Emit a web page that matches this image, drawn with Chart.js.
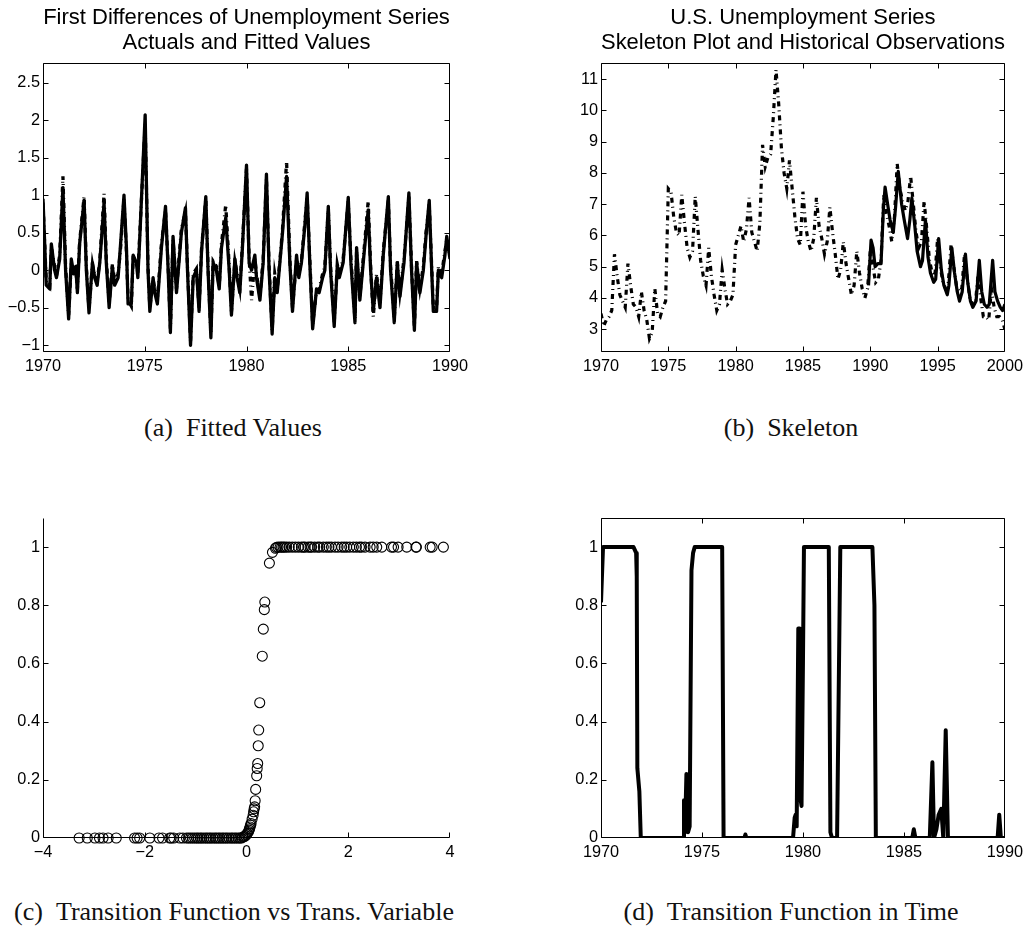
<!DOCTYPE html>
<html>
<head>
<meta charset="utf-8">
<title>Unemployment STAR model</title>
<script src="https://cdn.jsdelivr.net/npm/chart.js@4.4.1/dist/chart.umd.min.js"></script>
<style>
  html, body { margin: 0; padding: 0; background: #fff; }
  body { width: 1028px; height: 928px; position: relative; overflow: hidden; }
  canvas { position: absolute; }
  .cap {
    position: absolute;
    font-family: "Liberation Serif", "Times New Roman", serif;
    font-size: 26px;
    line-height: 1;
    color: #111;
    white-space: nowrap;
    transform: translate(-50%, -50%);
  }
</style>
</head>
<body>
<canvas id="fd-chart" width="493" height="390" style="left:0;top:0"></canvas>
<canvas id="sk-chart" width="488" height="390" style="left:540px;top:0"></canvas>
<canvas id="tv-chart" width="493" height="400" style="left:0;top:480px"></canvas>
<canvas id="tf-chart" width="488" height="400" style="left:540px;top:480px"></canvas>

<div class="cap" style="left:233px;top:428px">(a)&ensp;Fitted Values</div>
<div class="cap" style="left:791px;top:428px">(b)&ensp;Skeleton</div>
<div class="cap" style="left:234px;top:912px">(c)&ensp;Transition Function vs Trans. Variable</div>
<div class="cap" style="left:791px;top:912px">(d)&ensp;Transition Function in Time</div>

<script>
/* first differences: actual vs fitted, 1970-1990 */
const fdTimes = [
  1970.00, 1970.16, 1970.33, 1970.41, 1970.57, 1970.66, 1970.82, 1970.98,
  1971.11, 1971.26, 1971.39, 1971.51, 1971.61, 1971.69, 1971.80,
  1972.02, 1972.13, 1972.26, 1972.43, 1972.54, 1972.66, 1972.79,
  1973.00, 1973.11, 1973.25, 1973.41, 1973.52, 1973.69, 1973.80, 1973.98,
  1974.10, 1974.18, 1974.34, 1974.43, 1974.59, 1974.66, 1974.75,
  1975.02, 1975.16, 1975.25, 1975.41, 1975.49, 1975.62, 1975.82,
  1976.02, 1976.15, 1976.26, 1976.39, 1976.56, 1976.80,
  1977.00, 1977.10, 1977.25, 1977.38, 1977.54, 1977.67, 1977.79,
  1978.00, 1978.11, 1978.25, 1978.36, 1978.52, 1978.66, 1978.77, 1978.98,
  1979.15, 1979.26, 1979.43, 1979.54, 1979.67, 1979.80,
  1980.00, 1980.13, 1980.25, 1980.41, 1980.49, 1980.66, 1980.82, 1980.98,
  1981.11, 1981.26, 1981.39, 1981.51, 1981.64, 1981.77, 1981.97,
  1982.13, 1982.26, 1982.46, 1982.57, 1982.70, 1982.87, 1982.98,
  1983.11, 1983.25, 1983.44, 1983.57, 1983.74, 1983.85,
  1984.02, 1984.13, 1984.31, 1984.46, 1984.56, 1984.75,
  1985.00, 1985.13, 1985.33, 1985.41, 1985.57, 1985.77, 1985.98,
  1986.10, 1986.23, 1986.39, 1986.56, 1986.72, 1986.97,
  1987.08, 1987.26, 1987.41, 1987.54, 1987.74, 1987.98,
  1988.11, 1988.25, 1988.36, 1988.52, 1988.69, 1988.82, 1988.98,
  1989.10, 1989.18, 1989.34, 1989.43, 1989.59, 1989.75, 1989.84, 1990.00
];
const fdActual = [
  0.95, -0.20, -0.25, 0.35, 0.00, -0.10, 0.15, 1.10,
  0.00, -0.65, 0.15, -0.05, 0.05, -0.30, 0.35,
  0.93, 0.00, -0.57, 0.10, -0.10, -0.20, 0.10,
  0.90, 0.10, -0.50, 0.05, -0.20, -0.10, 0.30, 1.00,
  0.30, -0.45, -0.45, 0.20, 0.10, -0.10, 0.40,
  2.07, 0.00, -0.55, -0.10, -0.30, -0.45, 0.30,
  0.85, 0.00, -0.83, 0.45, -0.30, 0.50,
  0.83, 0.00, -1.00, -0.10, 0.00, -0.55, 0.25,
  0.98, 0.00, -0.90, 0.10, 0.00, -0.25, 0.30, 0.70,
  0.00, -0.60, 0.15, -0.10, -0.30, 0.30,
  1.40, 0.10, 0.00, 0.20, -0.10, -0.40, 0.10, 1.28,
  0.00, -0.85, -0.10, -0.30, 0.10, 0.50, 1.25,
  0.10, -0.55, 0.20, -0.10, 0.10, 0.60, 1.03,
  0.10, -0.78, -0.25, -0.30, -0.10, 0.00,
  0.85, 0.00, -0.75, 0.05, -0.10, 0.10,
  0.97, 0.10, -0.70, 0.30, -0.40, 0.20, 0.80,
  0.00, -0.55, -0.10, -0.50, 0.20, 0.98,
  0.00, -0.70, 0.10, -0.35, 0.10, 1.03,
  0.00, -0.80, 0.10, -0.30, 0.00, 0.45, 0.93,
  0.00, -0.55, -0.55, 0.00, -0.10, 0.20, 0.45, 0.15
];
const fdFitted = [
  0.90, -0.15, -0.22, 0.30, 0.05, -0.08, 0.20, 1.25,
  0.05, -0.60, 0.10, -0.02, 0.02, -0.25, 0.38,
  0.98, 0.05, -0.52, 0.08, -0.08, -0.15, 0.12,
  1.02, 0.15, -0.45, 0.08, -0.15, -0.05, 0.25, 0.95,
  0.25, -0.40, -0.48, 0.15, 0.12, -0.05, 0.45,
  1.95, 0.05, -0.50, -0.12, -0.25, -0.40, 0.35,
  0.80, 0.05, -0.78, 0.40, -0.25, 0.55,
  0.78, 0.05, -0.95, -0.05, 0.02, -0.50, 0.28,
  0.95, 0.05, -0.85, 0.12, 0.05, -0.22, 0.35, 0.87,
  0.05, -0.55, 0.12, -0.05, -0.25, 0.35,
  1.35, 0.15, -0.40, 0.15, -0.05, -0.35, 0.15, 1.22,
  0.05, -0.80, -0.05, -0.25, 0.12, 0.55, 1.45,
  0.15, -0.50, 0.15, -0.05, 0.12, 0.65, 0.98,
  0.15, -0.72, -0.28, -0.25, -0.05, 0.05,
  0.80, 0.05, -0.70, 0.08, -0.05, 0.15,
  0.92, 0.15, -0.65, 0.25, -0.35, 0.25, 0.92,
  0.05, -0.62, -0.05, -0.45, 0.25, 0.93,
  0.05, -0.65, 0.12, -0.30, 0.15, 0.98,
  0.05, -0.75, 0.12, -0.25, 0.05, 0.50, 0.88,
  0.05, -0.50, -0.50, 0.05, -0.05, 0.25, 0.40, 0.20
];
const fdXTicks = [1970, 1975, 1980, 1985, 1990];
const fdYTicks = [-1, -0.5, 0, 0.5, 1, 1.5, 2, 2.5];

/* unemployment rate, observed every 0.2 years from 1970.0 to 2000.0 */
const histValues = [
  3.5, 3.1, 3.3, 3.4, 3.6,
  5.4, 4.7, 4.1, 3.9, 3.7,
  5.1, 4.4, 3.8, 3.7, 3.4,
  4.2, 3.6, 3.3, 2.7, 2.9,
  4.3, 3.5, 3.4, 3.7, 3.9,
  7.5, 7.4, 6.6, 6.1, 6.0,
  7.3, 6.4, 5.6, 5.3, 5.5,
  7.25, 6.2, 5.2, 4.7, 4.4,
  5.6, 4.7, 4.1, 3.6, 3.8,
  4.9, 4.3, 3.8, 3.9, 4.1,
  5.7, 6.0, 6.3, 5.8, 6.2,
  7.2, 6.1, 5.8, 5.5, 6.4,
  8.9, 8.2, 8.5, 8.6, 9.8,
  11.3, 10.2, 8.8, 8.0, 7.5,
  8.4, 7.5, 6.6, 5.9, 5.7,
  7.4, 6.3, 5.8, 5.5, 5.9,
  7.2, 6.3, 5.9, 5.4, 5.8,
  6.9, 6.1, 5.4, 4.6, 4.9,
  5.8, 5.1, 4.6, 4.1, 4.4,
  5.5, 4.8, 4.3, 4.0, 4.3,
  5.5, 5.0, 4.5, 4.6, 5.2,
  7.3, 6.7, 6.3, 5.8, 6.6,
  8.3, 7.5, 7.1, 6.8, 7.1,
  7.9, 7.0, 6.1, 5.6, 5.8,
  7.1, 6.2, 5.2, 4.8, 4.7,
  5.9, 5.0, 4.5, 4.3, 4.5,
  5.7, 5.0, 4.4, 4.2, 4.3,
  5.4, 4.6, 4.0, 3.8, 3.8,
  4.7, 4.0, 3.4, 3.4, 3.3,
  4.3, 3.7, 3.4, 3.4, 3.3,
  3.0
];
const histStart = 1970;
const histStep = 0.2;

/* model skeleton, 1990-2000 */
const skTimes = [
  1989.87, 1990.06, 1990.21, 1990.36, 1990.56, 1990.80, 1990.97,
  1991.10, 1991.29, 1991.47, 1991.71, 1991.88,
  1992.08, 1992.33, 1992.52, 1992.77, 1992.94,
  1993.09, 1993.31, 1993.48, 1993.73, 1993.88,
  1994.10, 1994.29, 1994.47, 1994.71, 1994.86,
  1995.08, 1995.28, 1995.47, 1995.72, 1995.84,
  1996.06, 1996.26, 1996.46, 1996.63, 1996.83,
  1997.07, 1997.24, 1997.44, 1997.62, 1997.86,
  1998.10, 1998.28, 1998.47, 1998.67, 1998.84,
  1999.09, 1999.26, 1999.46, 1999.66, 1999.83, 2000.00
];
const skValues = [
  4.4, 5.85, 5.6, 5.0, 5.1, 5.1, 6.8,
  7.55, 7.0, 6.5, 6.1, 6.9,
  8.05, 7.0, 6.5, 5.9, 6.5,
  7.2, 6.3, 5.5, 5.0, 5.2,
  6.5, 5.3, 4.8, 4.5, 4.6,
  5.9, 4.9, 4.4, 4.1, 4.4,
  5.6, 4.8, 4.2, 3.9, 4.2,
  5.4, 4.5, 3.9, 3.7, 3.9,
  5.2, 4.2, 3.8, 3.7, 3.8,
  5.2, 4.2, 3.9, 3.7, 3.6, 3.8
];
const skXTicks = [1970, 1975, 1980, 1985, 1990, 1995, 2000];
const skYTicks = [3, 4, 5, 6, 7, 8, 9, 10, 11];

/* transition function against the transition variable */
const tvX = [
  -3.29, -3.13, -2.98, -2.89, -2.82, -2.72, -2.56, -2.20, -2.15, -2.10,
  -1.90, -1.72, -1.65, -1.51, -1.48, -1.43, -1.31, -1.25, -1.18, -1.14,
  -1.10, -1.06, -1.02, -0.98, -0.95, -0.91, -0.88, -0.84, -0.80, -0.77,
  -0.73, -0.70, -0.66, -0.62, -0.59, -0.55, -0.52, -0.48, -0.45, -0.41,
  -0.38, -0.34, -0.30, -0.27, -0.23, -0.20, -0.16, -0.13, -0.10, -0.07,
  -0.04, -0.02, 0.00, 0.02, 0.04, 0.05, 0.06, 0.07, 0.08, 0.09,
  0.11, 0.13, 0.14, 0.15, 0.16, 0.17, 0.18, 0.20, 0.21, 0.22,
  0.23, 0.24, 0.26, 0.31, 0.33, 0.35, 0.36, 0.45, 0.51, 0.57,
  0.59, 0.62, 0.66, 0.69, 0.72, 0.75, 0.79, 0.84, 0.90, 0.96,
  1.02, 1.08, 1.12, 1.15, 1.21, 1.25, 1.28, 1.34, 1.40, 1.44,
  1.51, 1.57, 1.62, 1.67, 1.74, 1.80, 1.87, 1.92, 1.97, 2.03,
  2.10, 2.16, 2.22, 2.26, 2.33, 2.43, 2.49, 2.56, 2.66, 2.85,
  2.89, 2.98, 3.15, 3.33, 3.34, 3.61, 3.65, 3.87
];
const tvY = [
  0, 0, 0, 0, 0, 0, 0, 0, 0, 0,
  0, 0, 0, 0, 0, 0, 0, 0, 0, 0,
  0, 0, 0, 0, 0, 0, 0, 0, 0, 0,
  0, 0, 0, 0, 0, 0, 0, 0, 0, 0,
  0, 0, 0, 0, 0, 0, 0, 0, 0, 0.003,
  0.005, 0.008, 0.012, 0.016, 0.022, 0.027, 0.032, 0.038, 0.044, 0.05,
  0.065, 0.078, 0.09, 0.1, 0.107, 0.128, 0.167, 0.214, 0.239, 0.256,
  0.317, 0.371, 0.465, 0.625, 0.718, 0.785, 0.811, 0.945, 0.982, 0.996,
  0.999, 1, 1, 1, 1, 1, 1, 1, 1, 1,
  1, 1, 1, 1, 1, 1, 1, 1, 1, 1,
  1, 1, 1, 1, 1, 1, 1, 1, 1, 1,
  1, 1, 1, 1, 1, 1, 1, 1, 1, 1,
  1, 1, 1, 1, 1, 1, 1, 1
];
const tvXTicks = [-4, -2, 0, 2, 4];
const tfYTicks = [0, 0.2, 0.4, 0.6, 0.8, 1];

/* transition function through time, 1970-1990 */
const tfTimes = [
  1970.00, 1970.10, 1971.61, 1971.74, 1971.77, 1971.80, 1971.90, 1971.97,
  1974.07, 1974.11, 1974.16, 1974.23, 1974.31, 1974.39, 1974.48, 1974.56, 1974.64,
  1976.00, 1976.07, 1977.10, 1977.15, 1977.20,
  1979.51, 1979.59, 1979.64, 1979.69, 1979.77, 1979.84, 1979.89, 1979.93, 1980.00, 1980.05,
  1981.28, 1981.36, 1981.44, 1981.69, 1981.85,
  1983.44, 1983.54, 1983.61,
  1985.41, 1985.49, 1985.57,
  1986.28, 1986.41, 1986.49, 1986.61, 1986.72, 1986.85, 1986.95, 1987.07, 1987.18,
  1989.64, 1989.72, 1989.80, 1990.00
];
const tfValues = [
  0.81, 1.00, 1.00, 0.98, 0.90, 0.24, 0.16, 0.00,
  0.00, 0.13, 0.02, 0.22, 0.02, 0.04, 0.92, 0.98, 1.00,
  1.00, 0.00, 0.00, 0.012, 0.00,
  0.00, 0.07, 0.08, 0.04, 0.72, 0.72, 0.13, 0.11, 0.60, 1.00,
  1.00, 0.02, 0.00, 0.00, 1.00,
  1.00, 0.80, 0.00,
  0.00, 0.03, 0.00,
  0.00, 0.26, 0.00, 0.03, 0.08, 0.10, 0.00, 0.37, 0.00,
  0.00, 0.08, 0.00, 0.00
];

Chart.defaults.font.family = '"Liberation Sans", Arial, Helvetica, sans-serif';
Chart.defaults.font.size = 16.3;
Chart.defaults.color = '#000';

const pts = (xs, ys) => xs.map((x, i) => ({ x: x, y: ys[i] }));
const fmt = v => String(Math.round(v * 100) / 100).replace('-', '\u2212');

// axes drawn as a box with inward tick marks
const frame = {
  id: 'frame',
  defaults: { box: true, tick: 5 },
  afterDatasetsDraw(chart, args, opts) {
    const { ctx, chartArea: a } = chart;
    const xs = chart.scales.x, ys = chart.scales.y;
    const L = Math.round(a.left) + 0.5, R = Math.round(a.right) - 0.5;
    const T = Math.round(a.top) + 0.5, B = Math.round(a.bottom) - 0.5;
    ctx.save();
    ctx.strokeStyle = '#000';
    ctx.lineWidth = 1;
    ctx.beginPath();
    ctx.moveTo(L, T);
    ctx.lineTo(L, B);
    ctx.lineTo(R, B);
    if (opts.box) {
      ctx.lineTo(R, T);
      ctx.lineTo(L, T);
    }
    xs.ticks.forEach(t => {
      const px = Math.min(Math.round(xs.getPixelForValue(t.value)) + 0.5, R);
      ctx.moveTo(px, B);
      ctx.lineTo(px, B - opts.tick);
      if (opts.box) {
        ctx.moveTo(px, T);
        ctx.lineTo(px, T + opts.tick);
      }
    });
    ys.ticks.forEach(t => {
      const py = Math.min(Math.round(ys.getPixelForValue(t.value)) + 0.5, B);
      ctx.moveTo(L, py);
      ctx.lineTo(L + opts.tick, py);
      if (opts.box) {
        ctx.moveTo(R, py);
        ctx.lineTo(R - opts.tick, py);
      }
    });
    ctx.stroke();
    ctx.restore();
  }
};
Chart.register(frame);

function panel(id, cfg) {
  return new Chart(document.getElementById(id), {
    type: cfg.type || 'line',
    data: { datasets: cfg.datasets },
    options: {
      responsive: false,
      animation: false,
      events: [],
      layout: { padding: { top: cfg.top || 0, right: cfg.right, left: 0, bottom: 0 } },
      plugins: {
        legend: { display: false },
        tooltip: { enabled: false },
        title: cfg.title ? {
          display: true,
          text: cfg.title,
          color: '#000',
          fullSize: false,
          font: { size: 22, weight: 'normal', lineHeight: 25 / 22 },
          padding: { top: 5, bottom: 8 }
        } : { display: false },
        frame: { box: cfg.box !== false }
      },
      scales: {
        x: {
          type: 'linear',
          min: cfg.xMin,
          max: cfg.xMax,
          grid: { display: false, drawTicks: false },
          border: { display: false },
          ticks: { padding: 5, maxRotation: 0, autoSkip: false, callback: fmt },
          afterBuildTicks: s => { s.ticks = cfg.xTicks.map(v => ({ value: v })); },
          afterFit: s => { s.height = cfg.xHeight; }
        },
        y: {
          type: 'linear',
          min: cfg.yMin,
          max: cfg.yMax,
          grid: { display: false, drawTicks: false },
          border: { display: false },
          ticks: { padding: 3, autoSkip: false, callback: fmt },
          afterBuildTicks: s => { s.ticks = cfg.yTicks.map(v => ({ value: v })); },
          afterFit: s => { s.width = cfg.yWidth; }
        }
      }
    }
  });
}

const solid = (data, width) => ({
  data: data, borderColor: '#000', borderWidth: width, pointRadius: 0,
  tension: 0, borderJoinStyle: 'round', fill: false
});
const dashDot = (data, width) => ({
  data: data, borderColor: '#000', borderWidth: width, pointRadius: 0,
  tension: 0, borderDash: [5, 4, 1, 4], borderCapStyle: 'butt', fill: false
});

panel('fd-chart', {
  title: ['First Differences of Unemployment Series', 'Actuals and Fitted Values'],
  datasets: [solid(pts(fdTimes, fdActual), 3.3), dashDot(pts(fdTimes, fdFitted), 3.3)],
  xMin: 1970, xMax: 1990, xTicks: fdXTicks,
  yMin: -1.09, yMax: 2.76, yTicks: fdYTicks,
  yWidth: 43, right: 43, xHeight: 38
});

const histTimes = histValues.map((_, i) => histStart + i * histStep);
panel('sk-chart', {
  title: ['U.S. Unemployment Series', 'Skeleton Plot and Historical Observations'],
  datasets: [solid(pts(skTimes, skValues), 3.2), dashDot(pts(histTimes, histValues), 3.2)],
  xMin: 1970, xMax: 2000, xTicks: skXTicks,
  yMin: 2.27, yMax: 11.52, yTicks: skYTicks,
  yWidth: 61, right: 21, xHeight: 38
});

panel('tv-chart', {
  type: 'scatter',
  box: false,
  datasets: [{
    data: pts(tvX, tvY),
    showLine: false,
    pointStyle: 'circle',
    pointRadius: 5,
    pointBorderWidth: 1.1,
    pointBorderColor: '#000',
    pointBackgroundColor: 'rgba(0,0,0,0)',
    clip: false
  }],
  xMin: -4, xMax: 4, xTicks: tvXTicks,
  yMin: 0, yMax: 1.1, yTicks: tfYTicks,
  yWidth: 43, right: 43, top: 38, xHeight: 42
});

panel('tf-chart', {
  datasets: [solid(pts(tfTimes, tfValues), 4)],
  xMin: 1970, xMax: 1990, xTicks: fdXTicks,
  yMin: 0, yMax: 1.1, yTicks: tfYTicks,
  yWidth: 61, right: 21, top: 38, xHeight: 42
});
</script>
</body>
</html>
